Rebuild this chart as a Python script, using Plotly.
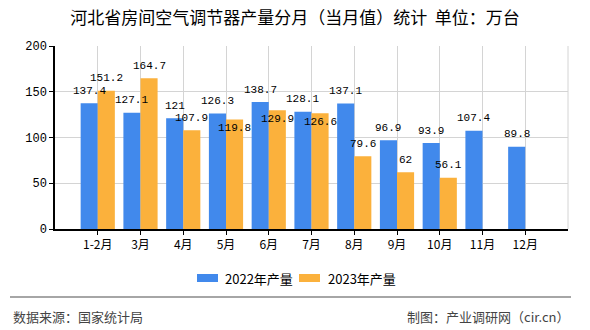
import plotly.graph_objects as go

categories = ["1-2月", "3月", "4月", "5月", "6月", "7月", "8月", "9月", "10月", "11月", "12月"]
values_2022 = [137.4, 127.1, 121, 126.3, 138.7, 128.1, 137.1, 96.9, 93.9, 107.4, 89.8]
values_2023 = [151.2, 164.7, 107.9, 119.8, 129.9, 126.6, 79.6, 62, 56.1, None, None]
series_names = ["2022年产量", "2023年产量"]
colors = ["#4189EC", "#FBB13C"]
title_text = "河北省房间空气调节器产量分月（当月值）统计  单位：万台"
source_text = "数据来源：国家统计局"
credit_text = "制图：产业调研网（cir.cn）"

# label placement style: labels of these 2023 bars are pushed down (as in the reference)
LOWERED_2023_LABELS = {3, 4, 5}

W, H = 590, 330
L, R, T, B = 55, 22, 46, 101
PH = H - T - B
PW = W - L - R


def px_x(x):
    return (x - L) / PW


def px_y(y):
    return (H - B - y) / PH


def fmt(v):
    return "%g" % v


fig = go.Figure()
for name, vals, col in zip(series_names, [values_2022, values_2023], colors):
    fig.add_trace(go.Bar(
        x=categories, y=vals, name=name, marker_color=col, marker_line_width=0,
        showlegend=False, hoverinfo="x+y",
    ))

fig.update_layout(
    width=W, height=H,
    margin=dict(l=L, r=R, t=T, b=B),
    paper_bgcolor="white", plot_bgcolor="white",
    barmode="group", bargap=0.2, bargroupgap=0,
    font=dict(family="Noto Sans CJK SC", size=12, color="#000"),
    title=dict(text=title_text, x=0.5, xref="container", xanchor="center",
               y=1 - 18 / H, yanchor="middle",
               font=dict(family="Noto Sans CJK SC", size=17, color="#000")),
    xaxis=dict(type="category", range=[-1, 11], showgrid=True, gridcolor="#d4d4d4",
               gridwidth=1, showline=True, linecolor="#000", linewidth=1.5,
               ticks="outside", ticklen=4, tickcolor="#000",
               tickfont=dict(family="Noto Sans CJK SC", size=12, color="#000")),
    yaxis=dict(range=[0, 200], dtick=50, showgrid=True, gridcolor="#d4d4d4",
               gridwidth=1, showline=True, linecolor="#000", linewidth=1.5,
               ticks="outside", ticklen=4, tickcolor="#000", zeroline=False,
               tickfont=dict(family="Liberation Mono, monospace", size=12, color="#000")),
)

shapes = [
    dict(type="line", xref="paper", yref="paper", x0=1, x1=1, y0=0, y1=1,
         line=dict(color="#d4d4d4", width=1)),
    dict(type="line", xref="paper", yref="paper", x0=px_x(10), x1=px_x(571),
         y0=px_y(297), y1=px_y(297), line=dict(color="#888888", width=1.5)),
]
annotations = []

# value labels above each bar
for k, (offset, vals) in enumerate(zip([-0.2, 0.2], [values_2022, values_2023])):
    for i, v in enumerate(vals):
        if v is None:
            continue
        shift = -8.5 if (k == 1 and i in LOWERED_2023_LABELS) else 12.5
        annotations.append(dict(
            text=fmt(v), x=i + offset, y=v, xref="x", yref="y",
            xanchor="center", yanchor="middle", yshift=shift, showarrow=False,
            font=dict(family="Liberation Mono, monospace", size=11, color="#000")))

legend_swatches = [(197, 218, 223), (299, 320, 326)]
for (x0, x1, tx), name, col in zip(legend_swatches, series_names, colors):
    shapes.append(dict(type="rect", xref="paper", yref="paper",
                       x0=px_x(x0), x1=px_x(x1), y0=px_y(274), y1=px_y(282),
                       fillcolor=col, line=dict(width=0)))
    annotations.append(dict(text=name, xref="paper", yref="paper", x=px_x(tx),
                            y=px_y(278), xanchor="left", yanchor="middle",
                            showarrow=False,
                            font=dict(family="Noto Sans CJK SC", size=13, color="#000")))
annotations.append(dict(text=source_text, xref="paper", yref="paper", x=px_x(11),
                        y=px_y(316), xanchor="left", yanchor="middle", showarrow=False,
                        font=dict(family="Noto Sans CJK SC", size=13, color="#444")))
annotations.append(dict(text=credit_text, xref="paper", yref="paper", x=px_x(571),
                        y=px_y(316), xanchor="right", yanchor="middle", showarrow=False,
                        font=dict(family="Noto Sans CJK SC", size=13, color="#444")))
fig.update_layout(shapes=shapes, annotations=annotations)

fig.write_html("out.html")
